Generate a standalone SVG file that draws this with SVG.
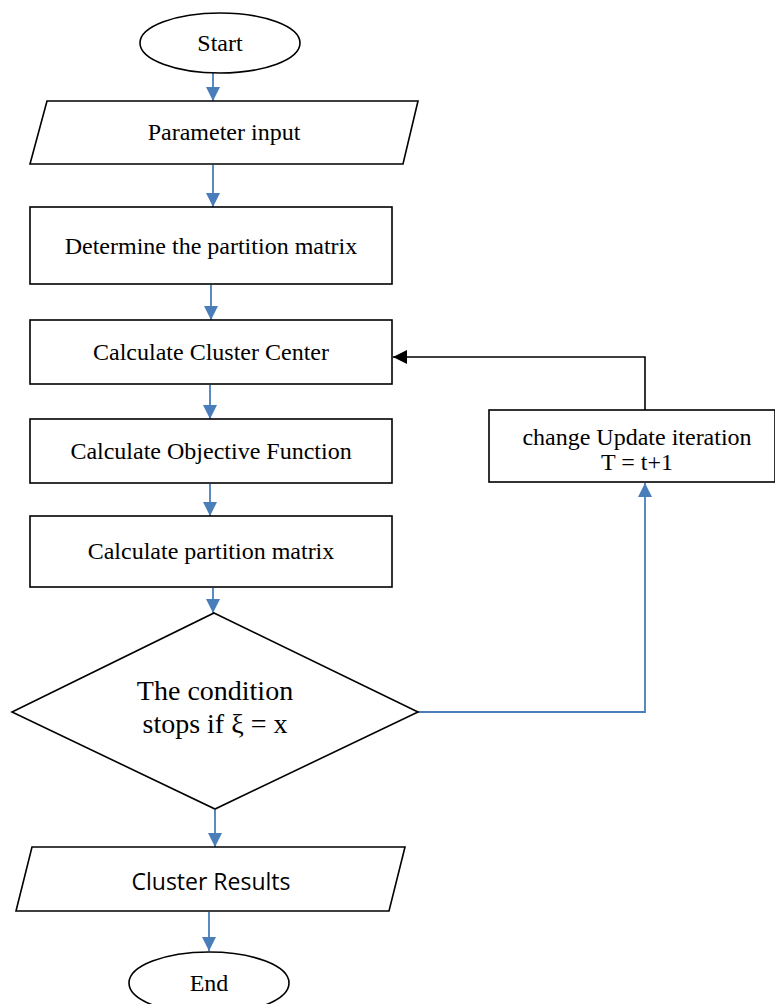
<svg xmlns="http://www.w3.org/2000/svg" width="775" height="1004" viewBox="0 0 775 1004">
<defs>
<style>
.s{fill:#fff;stroke:#000;stroke-width:1.6}
.t{font-family:"Liberation Serif","Times New Roman",serif;font-size:24px;fill:#000;text-anchor:middle}
.b{fill:none;stroke:#4a7ebb;stroke-width:1.8}
.k{fill:none;stroke:#000;stroke-width:1.6}
</style>
<marker id="ab" markerWidth="14" markerHeight="14" refX="14" refY="7" orient="auto" markerUnits="userSpaceOnUse" viewBox="0 0 14 14"><path d="M0,0 L14,7 L0,14 z" fill="#4a7ebb"/></marker>
<marker id="ak" markerWidth="14" markerHeight="14" refX="14" refY="7" orient="auto" markerUnits="userSpaceOnUse" viewBox="0 0 14 14"><path d="M0,0 L14,7 L0,14 z" fill="#000"/></marker>
</defs>
<g id="connectors">
<path class="b" d="M213,73 V101" marker-end="url(#ab)"/>
<path class="b" d="M213,165 V207" marker-end="url(#ab)"/>
<path class="b" d="M211,285 V320" marker-end="url(#ab)"/>
<path class="b" d="M210,385 V419" marker-end="url(#ab)"/>
<path class="b" d="M210,484 V516" marker-end="url(#ab)"/>
<path class="b" d="M213,588 V613" marker-end="url(#ab)"/>
<path class="b" d="M215,810 V847" marker-end="url(#ab)"/>
<path class="b" d="M209,912 V951" marker-end="url(#ab)"/>
<path class="b" d="M418,712 H645 V483" marker-end="url(#ab)"/>
<path class="k" d="M645,410 V357 H393" marker-end="url(#ak)"/>
</g>
<g id="start"><ellipse class="s" cx="220" cy="43" rx="80" ry="30"/><text class="t" x="220" y="51">Start</text></g>
<g id="param"><polygon class="s" points="47,101 418,101 403,164 30,164"/><text class="t" x="224" y="140">Parameter input</text></g>
<g id="determine"><rect class="s" x="30" y="207" width="362" height="77"/><text class="t" x="211" y="254">Determine the partition matrix</text></g>
<g id="center"><rect class="s" x="30" y="320" width="362" height="64"/><text class="t" x="211" y="360">Calculate Cluster Center</text></g>
<g id="objective"><rect class="s" x="30" y="419" width="362" height="64"/><text class="t" x="211" y="459">Calculate Objective Function</text></g>
<g id="partition"><rect class="s" x="30" y="516" width="362" height="71"/><text class="t" x="211" y="559">Calculate partition matrix</text></g>
<g id="decision"><polygon class="s" points="214,613 418,712 215,809 12,712"/><text class="t" style="font-size:28px" x="215" y="700">The condition</text><text class="t" style="font-size:28px" x="215" y="733">stops if ξ = x</text></g>
<g id="update"><rect class="s" x="489" y="410" width="286" height="72"/><text class="t" x="637" y="445">change Update iteration</text><text class="t" x="637" y="470">T = t+1</text></g>
<g id="results"><polygon class="s" points="32,847 405,847 389,911 16,911"/><text x="211" y="890" style="font-family:'Open Sans','Liberation Sans',sans-serif;font-size:23px;text-anchor:middle;fill:#000">Cluster Results</text></g>
<g id="end"><ellipse class="s" cx="209" cy="983" rx="80" ry="31"/><text class="t" x="209" y="991">End</text></g>
</svg>
